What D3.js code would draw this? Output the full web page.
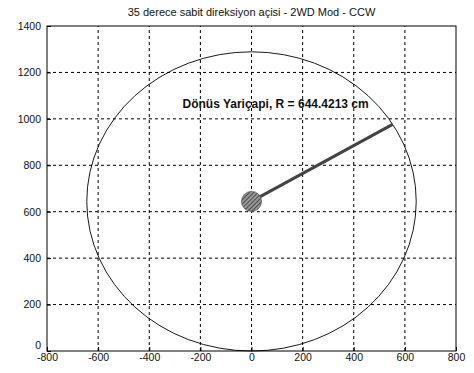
<!DOCTYPE html>
<html>
<head>
<meta charset="utf-8">
<script src="https://cdn.jsdelivr.net/npm/d3@7"></script>
<style>
  body { margin: 0; background: #fff; }
  svg { display: block; font-family: "Liberation Sans", Arial, sans-serif; }
</style>
</head>
<body>
<div id="container"></div>
<script>
// chart values
var titleText = "35 derece sabit direksiyon açisi - 2WD Mod - CCW";
var xTicks = [-800, -600, -400, -200, 0, 200, 400, 600, 800];
var yTicks = [0, 200, 400, 600, 800, 1000, 1200, 1400];
var radius = 644.4213;
var center = [0, 644.4213];
var lineX = [0, 552];
var lineY = [644.4213, 976];
var labelText = "Dönüs Yariçapi, R = 644.4213 cm";
var labelPos = [-270, 1045];

var width = 474, height = 373;
var margin = {left: 47, right: 18, top: 26, bottom: 22};

var svg = d3.select("div#container")
  .append("svg")
  .attr("width", width)
  .attr("height", height);

var x = d3.scaleLinear().domain([-800, 800]).range([margin.left, width - margin.right]);
var y = d3.scaleLinear().domain([0, 1400]).range([height - margin.bottom, margin.top]);

var fmt = function(d) { return d < 0 ? "-" + Math.abs(d) : String(d); };

// hatch pattern for the center marker
var defs = svg.append("defs");
var pat = defs.append("pattern")
  .attr("id", "hatch")
  .attr("patternUnits", "userSpaceOnUse")
  .attr("width", 3).attr("height", 3)
  .attr("patternTransform", "rotate(45)");
pat.append("rect").attr("width", 3).attr("height", 3).attr("fill", "#9a9a9a");
pat.append("line").attr("x1", 0).attr("y1", 0).attr("x2", 0).attr("y2", 3)
  .attr("stroke", "#333").attr("stroke-width", 1.6);

// grid
var grid = svg.append("g").attr("class", "grid");
grid.selectAll("line.gx")
  .data(xTicks.slice(1, -1))
  .enter().append("line")
  .attr("x1", function(d) { return x(d); })
  .attr("x2", function(d) { return x(d); })
  .attr("y1", y(0)).attr("y2", y(1400))
  .attr("stroke", "#000").attr("stroke-width", 1)
  .attr("stroke-dasharray", "3,3");
grid.selectAll("line.gy")
  .data(yTicks.slice(1, -1))
  .enter().append("line")
  .attr("x1", x(-800)).attr("x2", x(800))
  .attr("y1", function(d) { return y(d); })
  .attr("y2", function(d) { return y(d); })
  .attr("stroke", "#000").attr("stroke-width", 1)
  .attr("stroke-dasharray", "3,3");

// axes (ticks inward like matlab)
var xAxis = svg.append("g")
  .attr("transform", "translate(0," + y(0) + ")")
  .call(d3.axisBottom(x).tickValues(xTicks).tickFormat(fmt).tickSize(-4).tickPadding(2));
var yAxis = svg.append("g")
  .attr("transform", "translate(" + x(-800) + ",0)")
  .call(d3.axisLeft(y).tickValues(yTicks).tickFormat(fmt).tickSize(-4).tickPadding(6));
[xAxis, yAxis].forEach(function(a) {
  a.select(".domain").remove();
  a.selectAll("text").attr("font-size", 10.5).attr("fill", "#111")
    .attr("font-family", "'Liberation Sans', Arial, sans-serif");
  a.selectAll("line").attr("stroke", "#000");
});
xAxis.selectAll("text").attr("dy", "0.75em");
// the "0" label sits a bit higher so it clears "-800"
yAxis.selectAll(".tick text").filter(function(d) { return d === 0; }).attr("dy", "-0.2em");

// box
svg.append("rect")
  .attr("x", x(-800)).attr("y", y(1400))
  .attr("width", x(800) - x(-800))
  .attr("height", y(0) - y(1400))
  .attr("fill", "none").attr("stroke", "#000").attr("stroke-width", 1);

// turning circle
svg.append("ellipse")
  .attr("cx", x(center[0]))
  .attr("cy", y(center[1]))
  .attr("rx", x(center[0] + radius) - x(center[0]))
  .attr("ry", y(center[1]) - y(center[1] + radius))
  .attr("fill", "none").attr("stroke", "#000").attr("stroke-width", 0.9);

// radius line
var pts = lineX.map(function(d, i) { return [d, lineY[i]]; });
svg.append("path")
  .datum(pts)
  .attr("d", d3.line().x(function(d) { return x(d[0]); }).y(function(d) { return y(d[1]); }))
  .attr("fill", "none").attr("stroke", "#444").attr("stroke-width", 3);

// center marker
svg.append("circle")
  .attr("cx", x(center[0])).attr("cy", y(center[1]))
  .attr("r", 10)
  .attr("fill", "url(#hatch)")
  .attr("stroke", "#555").attr("stroke-width", 0.8);

// label
svg.append("text")
  .attr("x", x(labelPos[0])).attr("y", y(labelPos[1]))
  .attr("font-size", 12).attr("font-weight", "bold").attr("fill", "#111")
  .text(labelText);

// title
svg.append("text")
  .attr("x", (x(-800) + x(800)) / 2).attr("y", 16)
  .attr("text-anchor", "middle")
  .attr("font-size", 11).attr("fill", "#111")
  .text(titleText);
</script>
</body>
</html>
